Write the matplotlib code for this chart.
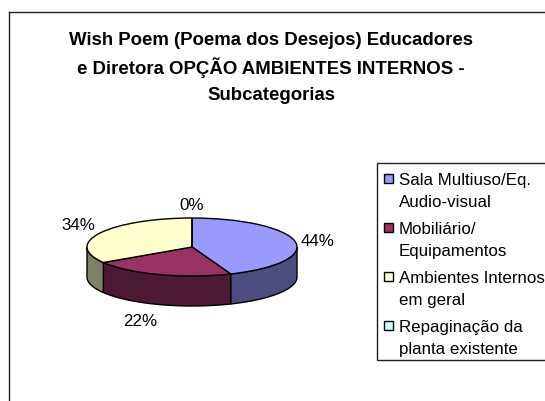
import numpy as np
import matplotlib
matplotlib.use('Agg')
import matplotlib.pyplot as plt
from matplotlib.patches import Rectangle

plt.rcParams['font.family'] = ['Liberation Sans', 'DejaVu Sans']

title_lines = ['Wish Poem (Poema dos Desejos) Educadores',
               'e Diretora OPÇÃO AMBIENTES INTERNOS -',
               'Subcategorias']
categories = ['Sala Multiuso/Eq.\nAudio-visual', 'Mobiliário/\nEquipamentos',
              'Ambientes Internos\nem geral', 'Repaginação da\nplanta existente']
values = [44, 22, 34, 0]
pct_labels = ['44%', '22%', '34%', '0%']
top_colors = ['#9999ff', '#993366', '#ffffcc', '#ccffff']
side_colors = ['#4d4d80', '#4d1a33', '#808066', '#668080']

W, H = 545, 402
fig = plt.figure(figsize=(W / 100, H / 100), dpi=100, facecolor='white')

# background axes in pixel coords, y going down like the picture
bg = fig.add_axes([0, 0, 1, 1])
bg.set_xlim(0, W)
bg.set_ylim(H, 0)
bg.axis('off')

# chart frame runs off the right and bottom of the image
bg.plot([9, 9], [H + 5, 12.5], color='#222222', lw=1)
bg.plot([9, W + 5], [12.5, 12.5], color='#222222', lw=1)

for i, line in enumerate(title_lines):
    bg.text(271, 40.5 + i * 27.5, line, ha='center', va='center',
            fontsize=13.4, fontweight='bold', color='black')

# legend
bg.add_patch(Rectangle((377, 163.5), W, 197.5, fc='white', ec='#222222', lw=1))
for i, (cat, col) in enumerate(zip(categories, top_colors)):
    y = 179 + i * 49
    bg.add_patch(Rectangle((384, y - 4.5), 9, 9, fc=col, ec='black', lw=1))
    first, second = cat.split('\n')
    bg.text(399, y + 1.5, first, ha='left', va='center', fontsize=12.2, color='black')
    bg.text(399, y + 23.5, second, ha='left', va='center', fontsize=12.2, color='black')

# pie: unit circle squashed into a 105x29 px ellipse, centre at (192, 248)
cx, cy, a, b = 192, 248, 105, 29
ax = fig.add_axes([(cx - 1.2 * a) / W, 1 - (cy + 2.4 * b) / H, 2.4 * a / W, 3.6 * b / H])
wedges, _ = ax.pie(values, colors=top_colors, startangle=90, counterclock=False,
                   radius=1, wedgeprops={'edgecolor': 'black', 'linewidth': 1, 'zorder': 3})
depth = 30 / b
ax.set_aspect('auto')
ax.set_xlim(-1.2, 1.2)
ax.set_ylim(-2.4, 1.2)

# sides of the disc, only the front half shows
start = 0.0
for val, col in zip(values, side_colors):
    end = start + val / sum(values) * 360
    t0, t1 = max(start, 90), min(end, 270)
    if t1 > t0:
        t = np.radians(np.linspace(t0, t1, 60))
        xs = np.sin(t)
        ys = np.cos(t)
        ax.fill(np.r_[xs, xs[::-1]], np.r_[ys, ys[::-1] - depth], fc=col,
                ec='black', lw=1, zorder=2)
    start = end

label_pos = [(318, 241.5), (140, 322), (78, 226), (192, 206)]
for lab, (x, y) in zip(pct_labels, label_pos):
    bg.text(x, y, lab, ha='center', va='center', fontsize=12.2, color='black')

fig.savefig('out.png', dpi=100)
